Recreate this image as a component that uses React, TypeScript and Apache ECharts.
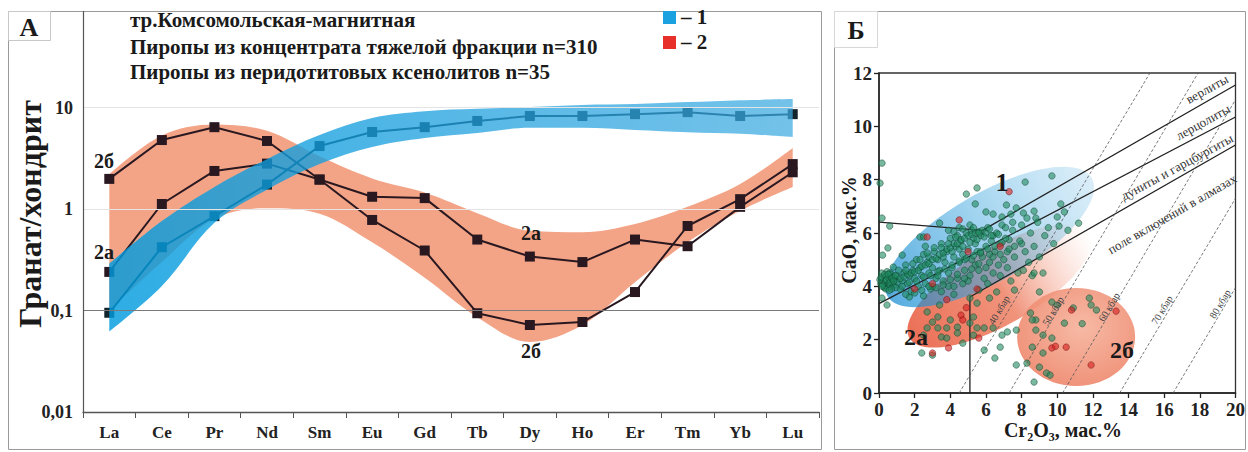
import React, { useEffect, useRef } from 'react';
import * as echarts from 'echarts';

const SERIF = "'Liberation Serif', 'Times New Roman', serif";

// ---------- Panel A data ----------
const categories = ['La', 'Ce', 'Pr', 'Nd', 'Sm', 'Eu', 'Gd', 'Tb', 'Dy', 'Ho', 'Er', 'Tm', 'Yb', 'Lu'];
const yTickLabels = ['0,01', '0,1', '1', '10', ''];
const series1 = [0.095, 0.42, 0.85, 1.74, 4.17, 5.74, 6.4, 7.37, 8.24, 8.24, 8.6, 9.0, 8.24, 8.6];
const series2a = [0.24, 1.12, 2.37, 2.8, 1.95, 1.32, 1.28, 0.5, 0.34, 0.3, 0.5, 0.43, 1.05, 2.3];
const series2b = [1.98, 4.78, 6.4, 4.68, 1.95, 0.78, 0.39, 0.094, 0.072, 0.077, 0.152, 0.68, 1.25, 2.77];
const orangeUpper = [2.2, 5.3, 6.8, 5.9, 3.3, 2.0, 1.45, 0.91, 0.61, 0.59, 0.71, 1.05, 1.76, 4.0];
const orangeLower = [0.1, 0.3, 0.8, 1.02, 0.9, 0.47, 0.21, 0.086, 0.049, 0.072, 0.19, 0.47, 0.96, 1.65];
const blueUpper = [0.29, 0.76, 1.65, 3.1, 5.35, 7.9, 9.2, 9.7, 10.1, 10.6, 10.8, 11.3, 11.8, 12.1];
const blueLower = [0.062, 0.174, 0.73, 1.55, 2.77, 4.08, 5.0, 5.6, 6.3, 6.3, 6.0, 5.7, 5.5, 5.1];
const gridLineValues = [10, 1, 0.1];

// ---------- Panel Б data ----------
const greenPoints: number[][] = [
  [0.17, 8.62], [0.06, 7.87], [0.17, 6.56], [0.6, 6.26], [3.4, 6.37], [4.9, 7.46], [5.5, 7.69], [8.2, 7.91],
  [9.7, 8.14], [5.4, 7.09], [7.15, 7.05], [7.7, 6.94], [6.0, 6.79], [6.4, 6.71], [6.9, 6.6], [7.4, 6.71],
  [8.1, 6.75], [8.7, 6.82], [8.8, 6.56], [8.3, 6.56], [10.2, 7.09], [10.4, 6.79], [10.1, 6.26], [11.2, 6.37],
  [4.5, 6.2], [5.1, 6.3], [2.3, 5.85], [2.5, 5.85], [0.2, 5.17], [0.5, 5.44], [1.3, 5.17], [0.8, 4.72],
  [0.45, 3.3], [0.17, 3.56], [1.7, 3.6], [2.5, 3.64],
  [0.1, 4.1], [0.2, 4.3], [0.3, 4.0], [0.35, 4.2], [0.4, 4.4], [0.5, 4.1], [0.55, 4.3], [0.6, 4.0],
  [0.65, 4.25], [0.7, 4.45], [0.75, 4.15], [0.8, 4.35], [0.85, 4.05], [0.9, 4.25], [1.0, 4.4], [0.15, 4.5],
  [0.25, 4.2], [0.45, 4.55], [0.3, 3.95], [0.6, 4.5], [1.05, 4.15], [0.05, 4.25], [0.95, 3.95], [0.7, 3.9],
  [0.12, 4.35], [0.22, 4.05], [0.32, 4.45], [0.42, 4.25], [0.52, 4.45], [0.62, 4.15], [0.72, 4.3], [0.82, 4.2],
  [0.92, 4.4], [0.38, 3.9], [0.58, 3.85], [0.18, 4.0],
  [1.2, 3.9], [1.3, 4.2], [1.4, 4.5], [1.5, 4.8], [1.6, 4.1], [1.7, 4.4], [1.8, 3.8], [1.9, 4.6],
  [2.0, 4.3], [2.1, 5.0], [1.5, 3.7], [2.2, 4.0], [2.3, 4.7], [2.4, 4.4], [2.5, 5.2], [1.1, 4.6],
  [2.6, 4.1], [2.7, 4.9], [2.8, 4.5], [2.9, 3.9], [3.0, 4.7], [3.1, 5.3], [3.2, 4.3], [3.3, 5.0],
  [3.4, 4.6], [3.5, 5.6], [3.6, 4.2], [3.7, 4.9], [3.8, 5.3], [3.9, 4.5], [4.0, 5.8], [2.6, 5.5],
  [3.0, 4.0], [3.3, 4.4], [3.6, 5.1], [3.9, 4.0], [2.8, 5.1], [3.5, 3.8],
  [4.1, 4.7], [4.2, 5.1], [4.3, 5.5], [4.4, 4.3], [4.5, 4.9], [4.6, 5.7], [4.7, 5.2], [4.8, 4.6],
  [4.9, 6.0], [5.0, 5.4], [5.1, 4.4], [5.2, 5.0], [5.3, 5.8], [5.4, 4.8], [5.5, 5.3], [4.2, 4.0],
  [4.4, 5.9], [4.7, 4.1], [5.0, 4.2], [5.2, 6.1], [4.5, 5.4], [4.8, 5.0], [5.4, 5.6], [4.1, 5.3],
  [5.6, 4.6], [5.7, 5.9], [5.8, 5.1], [5.9, 4.3], [6.0, 5.5], [6.1, 6.2], [6.2, 4.9], [6.3, 5.7],
  [6.4, 4.5], [6.5, 5.3], [6.6, 6.0], [6.7, 4.8], [6.8, 5.6], [6.9, 6.3], [7.0, 5.0], [5.7, 5.3],
  [6.1, 4.1], [6.4, 5.9], [6.8, 4.4], [6.2, 5.2],
  [1.2, 4.3], [1.4, 4.35], [1.6, 4.45], [1.8, 4.5], [2.0, 4.55], [2.2, 4.6], [2.4, 4.75], [2.6, 4.8],
  [2.8, 4.85], [3.0, 5.0], [3.2, 5.05], [3.4, 5.2], [3.6, 5.25], [3.8, 5.4], [4.0, 5.45], [4.2, 5.6],
  [4.4, 5.6], [4.6, 5.75], [4.8, 5.8], [5.0, 5.9], [5.2, 5.95], [5.4, 6.0], [5.6, 6.05], [5.8, 6.1],
  [6.0, 6.0], [6.2, 6.15],
  [1.3, 4.0], [1.7, 4.15], [2.1, 4.2], [2.5, 4.35], [2.9, 4.4], [3.3, 4.55], [3.7, 4.65], [4.1, 4.8],
  [4.5, 4.95], [4.9, 5.05], [5.3, 5.15], [5.7, 5.25], [6.1, 5.4], [6.5, 5.5], [6.9, 5.65], [7.3, 5.75],
  [1.5, 4.6], [1.9, 4.85], [2.3, 5.0], [2.7, 5.25], [3.1, 5.45], [3.5, 5.45], [3.9, 5.6], [4.3, 5.85],
  [4.7, 5.5], [5.1, 5.65], [5.5, 5.75], [5.9, 5.85], [6.3, 5.9], [6.7, 5.95], [7.1, 6.2], [7.5, 6.4],
  [2.0, 3.75], [2.4, 3.85], [2.8, 4.0], [3.2, 3.95], [3.6, 4.05], [4.0, 4.25], [4.4, 4.45], [4.8, 4.3],
  [5.2, 4.65], [5.6, 4.85], [6.0, 4.7], [6.4, 5.1], [6.8, 5.2], [7.2, 5.3], [7.6, 5.5], [8.0, 5.6],
  [3.9, 6.1], [4.2, 6.05], [4.7, 6.15], [5.3, 6.2], [5.6, 6.0],
  [7.1, 5.8], [7.2, 4.7], [7.3, 5.4], [7.5, 6.1], [7.6, 5.1], [7.8, 4.5], [7.9, 5.7], [8.0, 6.3],
  [8.2, 5.3], [8.4, 4.9], [8.5, 6.0], [8.7, 5.5], [8.9, 6.4], [9.0, 5.1], [9.3, 5.9], [7.4, 4.2],
  [8.1, 4.6], [8.6, 4.4], [9.5, 6.2], [9.8, 5.6], [10.0, 6.6], [10.6, 6.1], [9.2, 4.5],
  [2.7, 3.04], [3.3, 2.85], [3.0, 2.66], [4.0, 2.74], [5.3, 2.85], [5.1, 2.62], [4.4, 2.47], [3.8, 2.44],
  [3.3, 2.44], [2.7, 2.44], [2.5, 2.17], [3.5, 2.1], [3.8, 2.06], [4.4, 2.25], [5.3, 2.17], [5.5, 2.44],
  [5.9, 2.44], [6.4, 2.44], [6.9, 2.17], [4.7, 1.87], [2.4, 1.5], [3.0, 1.42], [5.9, 1.61], [6.5, 1.31],
  [7.2, 2.29], [7.7, 2.36], [8.8, 2.36], [8.8, 2.74], [5.1, 3.56], [5.6, 3.86], [6.6, 3.79], [7.6, 3.86],
  [9.0, 3.79], [8.7, 4.5], [6.2, 3.56], [5.5, 3.37], [4.2, 3.7], [3.4, 3.3], [6.8, 1.72], [7.7, 1.05],
  [8.6, 2.74], [9.2, 2.17], [9.7, 2.06], [8.6, 1.72], [9.2, 1.5], [9.4, 0.75], [9.0, 0.97], [8.3, 1.12],
  [9.6, 0.67], [8.7, 0.41], [10.4, 2.62], [10.9, 3.19], [11.8, 3.56], [11.9, 3.3], [12.2, 3.11], [9.7, 3.41],
  [8.5, 3.0], [10.0, 3.3], [11.4, 2.6]
];
const redPoints: number[][] = [
  [2.7, 5.85], [5.5, 3.9], [4.9, 3.2], [4.6, 2.92], [4.7, 2.74], [5.6, 2.06], [3.9, 1.69], [3.0, 1.5],
  [9.7, 1.69], [9.9, 1.75], [10.5, 1.72], [10.8, 3.11], [13.3, 3.07], [11.9, 1.05], [3.8, 3.5], [7.3, 7.55],
  [4.5, 6.49], [3.0, 4.1], [5.0, 5.3], [6.8, 5.5], [2.0, 3.9]
];
const boundaryLines: number[][][] = [
  [[0, 6.41], [5.8, 6.1], [20, 11.55]],
  [[0, 3.35], [20, 10.35]],
  [[5.1, 0], [5.1, 3.6], [20, 9.3]]
];
const isobarNames = ['40 кбар', '50 кбар', '60 кбар', '70 кбар', '80 кбар'];
const isobarLines: number[][][] = [
  [[4.5, 0], [15.2, 12]],
  [[7.3, 0], [17.9, 12]],
  [[10.3, 0], [20, 11.0]],
  [[13.5, 0], [20, 7.3]],
  [[16.5, 0], [20, 3.95]]
];
const ellipseFields = ['2а', '2б', '1'];
const ellipseCr = [6.76, 11.06, 6.2];
const ellipseCaO = [4.01, 2.1, 5.85];

const ellipseLook = [
  {
    rx: 104, ry: 38, rot: 30,
    fill: new echarts.graphic.LinearGradient(0, 0, 1, 0, [
      { offset: 0, color: 'rgba(234,104,78,0.95)' },
      { offset: 0.5, color: 'rgba(238,128,100,0.85)' },
      { offset: 1, color: 'rgba(248,190,170,0)' }
    ])
  },
  {
    rx: 59, ry: 49, rot: 0,
    fill: new echarts.graphic.RadialGradient(0.55, 0.4, 0.7, [
      { offset: 0, color: 'rgba(246,178,155,0.9)' },
      { offset: 1, color: 'rgba(237,128,100,0.9)' }
    ])
  },
  {
    rx: 118, ry: 44, rot: 30,
    fill: new echarts.graphic.LinearGradient(0, 0, 1, 0, [
      { offset: 0, color: 'rgba(20,140,210,0.72)' },
      { offset: 0.5, color: 'rgba(60,165,222,0.48)' },
      { offset: 1, color: 'rgba(150,205,236,0.35)' }
    ])
  }
];

const deg = (d: number) => (d * Math.PI) / 180;

function txt(x: number, y: number, text: string, font: string, opts: any = {}) {
  return {
    type: 'text',
    x,
    y,
    rotation: opts.rotation || 0,
    z: 50,
    style: {
      text,
      font,
      fill: opts.fill || '#1a1a1a',
      textAlign: opts.align || 'center',
      textVerticalAlign: 'middle'
    }
  };
}

function buildOption(): any {
  const blueDiff = blueUpper.map((v, i) => v - blueLower[i]);
  const orangeDiff = orangeUpper.map((v, i) => v - orangeLower[i]);
  const lineBase = { type: 'line', xAxisIndex: 0, yAxisIndex: 0, symbol: 'none', silent: true };

  const graphic: any[] = [
    // frames
    { type: 'rect', shape: { x: 8.5, y: 11.5, width: 813, height: 438 }, style: { fill: 'none', stroke: '#9a9a9a', lineWidth: 1 }, z: 40 },
    { type: 'rect', shape: { x: 834.5, y: 11.5, width: 411, height: 438 }, style: { fill: 'none', stroke: '#9a9a9a', lineWidth: 1 }, z: 40 },
    { type: 'rect', shape: { x: 8.5, y: 11.5, width: 42, height: 29 }, style: { fill: '#fff', stroke: '#c8c8c8', lineWidth: 1 }, z: 41 },
    { type: 'rect', shape: { x: 834.5, y: 11.5, width: 43, height: 36 }, style: { fill: '#fff', stroke: '#d8d8d8', lineWidth: 1 }, z: 41 },
    { type: 'line', shape: { x1: 83.5, y1: 11, x2: 83.5, y2: 412 }, style: { stroke: '#555', lineWidth: 1.2 }, z: 40 },
    txt(29, 27, 'А', `bold 26px ${SERIF}`),
    txt(856, 30, 'Б', `bold 26px ${SERIF}`),
    // titles
    txt(130, 20, 'тр.Комсомольская-магнитная', `bold 21px ${SERIF}`, { align: 'left' }),
    txt(130, 47, 'Пиропы из концентрата тяжелой фракции n=310', `bold 21px ${SERIF}`, { align: 'left' }),
    txt(130, 72, 'Пиропы из перидотитовых ксенолитов n=35', `bold 21px ${SERIF}`, { align: 'left' }),
    // legend
    { type: 'rect', shape: { x: 663, y: 11, width: 13, height: 13 }, style: { fill: '#1ba1e0' }, z: 41 },
    txt(681, 17, '– 1', `bold 21px ${SERIF}`, { align: 'left' }),
    { type: 'rect', shape: { x: 663, y: 36, width: 13, height: 13 }, style: { fill: '#e8302a' }, z: 41 },
    txt(681, 42, '– 2', `bold 21px ${SERIF}`, { align: 'left' }),
    // curve labels
    txt(104, 161, '2б', `bold 20px ${SERIF}`),
    txt(104, 252, '2а', `bold 20px ${SERIF}`),
    txt(531, 233, '2а', `bold 20px ${SERIF}`),
    txt(531, 351, '2б', `bold 20px ${SERIF}`),
    // y title
    txt(30, 214, 'Гранат/хондрит', `bold 32px ${SERIF}`, { rotation: Math.PI / 2 }),
    // right panel texts
    txt(849, 230, 'CaO, мас.%', `bold 20px ${SERIF}`, { rotation: Math.PI / 2 }),
    txt(1063, 430, 'Cr₂O₃, мас.%', `bold 20px ${SERIF}`),
    txt(1002, 182, '1', `bold 26px ${SERIF}`),
    txt(916, 337, '2а', `bold 24px ${SERIF}`),
    txt(1122, 350, '2б', `bold 24px ${SERIF}`),
    txt(1207, 89, 'верлиты', `13px ${SERIF}`, { rotation: deg(29), fill: '#333' }),
    txt(1203, 122, 'лерцолиты', `13px ${SERIF}`, { rotation: deg(29), fill: '#333' }),
    txt(1177, 167, 'дуниты и гарцбургиты', `13px ${SERIF}`, { rotation: deg(28.5), fill: '#333' }),
    txt(1172, 214, 'поле включений в алмазах', `13px ${SERIF}`, { rotation: deg(30), fill: '#333' })
  ];
  const isoLabelPos = [[999, 310], [1053, 311], [1109, 307], [1162, 310], [1220, 304]];
  isobarNames.forEach((n, i) => {
    graphic.push(txt(isoLabelPos[i][0], isoLabelPos[i][1], n, `10px ${SERIF}`, { rotation: deg(59), fill: '#444' }));
  });

  const series: any[] = [
    { ...lineBase, data: orangeLower, stack: 'o', smooth: 0.35, lineStyle: { opacity: 0 }, z: 1 },
    { ...lineBase, data: orangeDiff, stack: 'o', smooth: 0.35, lineStyle: { opacity: 0 }, areaStyle: { color: '#f3a487', opacity: 1 }, z: 1,
      markLine: {
        silent: true, symbol: 'none', label: { show: false },
        data: gridLineValues.map((v) => ({ yAxis: v, lineStyle: { color: v === 0.1 ? '#7a7a7a' : '#e4e4e4', width: 1.2, type: 'solid' } }))
      }
    },
    { type: 'line', xAxisIndex: 0, yAxisIndex: 0, data: series2a, symbol: 'rect', symbolSize: 10, lineStyle: { color: '#2a1820', width: 2 }, itemStyle: { color: '#2a1820' }, z: 3 },
    { type: 'line', xAxisIndex: 0, yAxisIndex: 0, data: series2b, symbol: 'rect', symbolSize: 10, lineStyle: { color: '#2a1820', width: 2 }, itemStyle: { color: '#2a1820' }, z: 3 },
    { type: 'line', xAxisIndex: 0, yAxisIndex: 0, data: series1, symbol: 'rect', symbolSize: 10, lineStyle: { color: '#12242c', width: 2 }, itemStyle: { color: '#12242c' }, z: 3 },
    { ...lineBase, data: blueLower, stack: 'b', smooth: 0.35, lineStyle: { opacity: 0 }, z: 4 },
    { ...lineBase, data: blueDiff, stack: 'b', smooth: 0.35, lineStyle: { opacity: 0 }, z: 4,
      areaStyle: {
        opacity: 1,
        color: new echarts.graphic.LinearGradient(0, 0, 1, 0, [
          { offset: 0, color: 'rgba(0,155,222,0.82)' },
          { offset: 0.5, color: 'rgba(30,160,222,0.75)' },
          { offset: 1, color: 'rgba(60,170,224,0.72)' }
        ])
      }
    },
    // right panel
    {
      type: 'custom', xAxisIndex: 1, yAxisIndex: 1, silent: true, z: 3,
      data: ellipseFields.map((n, i) => [ellipseCr[i], ellipseCaO[i]]),
      renderItem: (params: any, api: any) => {
        const i = params.dataIndex;
        const c = api.coord([api.value(0), api.value(1)]);
        const e = ellipseLook[i];
        return {
          type: 'ellipse', x: c[0], y: c[1], rotation: deg(e.rot),
          shape: { cx: 0, cy: 0, rx: e.rx, ry: e.ry },
          style: { fill: e.fill, stroke: 'none' }
        };
      }
    },
    ...boundaryLines.map((d) => ({
      type: 'line', xAxisIndex: 1, yAxisIndex: 1, data: d, symbol: 'none', silent: true,
      lineStyle: { color: '#222', width: 1.3 }, z: 5
    })),
    ...isobarLines.map((d) => ({
      type: 'line', xAxisIndex: 1, yAxisIndex: 1, data: d, symbol: 'none', silent: true,
      lineStyle: { color: '#555', width: 0.8, type: [3, 2] }, z: 5
    })),
    {
      type: 'scatter', xAxisIndex: 1, yAxisIndex: 1, data: greenPoints, symbolSize: 6.5, z: 7,
      itemStyle: { color: 'rgba(30,138,95,0.75)', borderColor: 'rgba(15,65,45,0.85)', borderWidth: 0.7 }
    },
    {
      type: 'scatter', xAxisIndex: 1, yAxisIndex: 1, data: redPoints, symbolSize: 6.5, z: 7,
      itemStyle: { color: 'rgba(215,35,35,0.78)', borderColor: 'rgba(110,20,20,0.85)', borderWidth: 0.7 }
    }
  ];

  return {
    animation: false,
    backgroundColor: '#ffffff',
    grid: [
      { left: 83, width: 736, top: 6, height: 406 },
      { left: 879, right: 11, top: 73, bottom: 59, show: true, borderColor: '#333', borderWidth: 1.3, backgroundColor: 'transparent' }
    ],
    xAxis: [
      {
        type: 'category', gridIndex: 0, data: categories, boundaryGap: true,
        axisLine: { lineStyle: { color: '#555', width: 1.3 } },
        axisTick: { show: true, length: 6, lineStyle: { color: '#555' } },
        axisLabel: { color: '#222', fontFamily: SERIF, fontWeight: 'bold', fontSize: 17, margin: 12 }
      },
      {
        type: 'value', gridIndex: 1, min: 0, max: 20, interval: 2,
        axisLine: { lineStyle: { color: '#222', width: 1.5 } },
        axisTick: { length: 5, lineStyle: { color: '#222', width: 1.3 } },
        splitLine: { show: false },
        axisLabel: { color: '#222', fontFamily: SERIF, fontWeight: 'bold', fontSize: 19, margin: 7 }
      }
    ],
    yAxis: [
      {
        type: 'log', gridIndex: 0, logBase: 10, min: 0.01, max: 100,
        axisLine: { show: false }, axisTick: { show: false }, splitLine: { show: false },
        axisLabel: {
          color: '#222', fontFamily: SERIF, fontWeight: 'bold', fontSize: 18, margin: 10,
          formatter: (v: number) => yTickLabels[Math.round(Math.log10(v)) + 2] ?? ''
        }
      },
      {
        type: 'value', gridIndex: 1, min: 0, max: 12, interval: 2,
        axisLine: { lineStyle: { color: '#222', width: 1.5 } },
        axisTick: { length: 5, lineStyle: { color: '#222', width: 1.3 } },
        splitLine: { show: false },
        axisLabel: { color: '#222', fontFamily: SERIF, fontWeight: 'bold', fontSize: 19, margin: 7 }
      }
    ],
    series,
    graphic
  };
}

export default function App() {
  const ref = useRef<HTMLDivElement>(null);
  useEffect(() => {
    if (!ref.current) return;
    const chart = echarts.init(ref.current, null, { renderer: 'svg' });
    chart.setOption(buildOption());
    return () => chart.dispose();
  }, []);
  return (
    <div
      ref={ref}
      style={{ position: 'fixed', left: 0, top: 0, width: 1248, height: 452, background: '#fff' }}
    />
  );
}
